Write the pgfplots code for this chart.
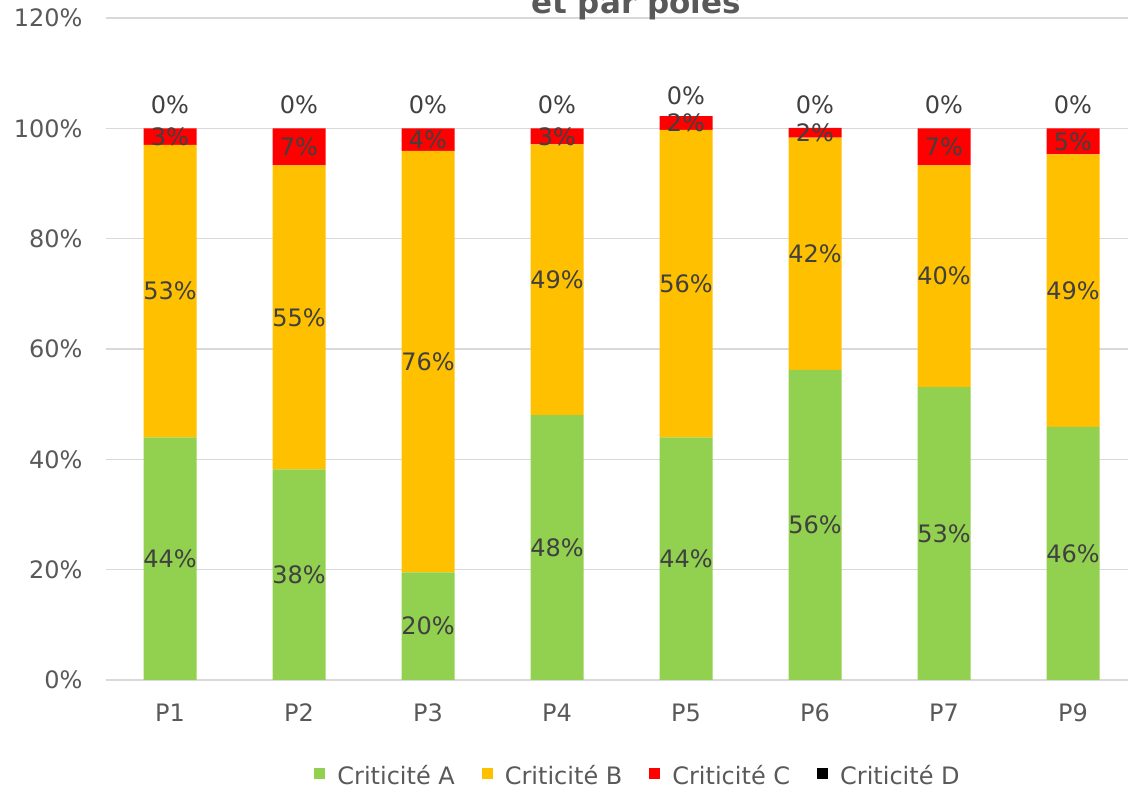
\documentclass[border=0pt]{standalone}
\usepackage{pgfplots}
\pgfplotsset{compat=1.18}
\usepackage{fontspec}
\setmainfont{DejaVu Sans}
\definecolor{cA}{HTML}{92D050}
\definecolor{cB}{HTML}{FFC000}
\definecolor{cC}{HTML}{FF0000}
\definecolor{cD}{HTML}{000000}
\definecolor{tickc}{HTML}{595959}
\definecolor{labc}{HTML}{404040}
\definecolor{gridc}{HTML}{D9D9D9}
\begin{document}
\begin{tikzpicture}
\useasboundingbox (-52.75pt,-55pt) rectangle (511.25pt,340pt);
\clip (-52.75pt,-55pt) rectangle (511.25pt,340pt);
\begin{axis}[
  at={(0pt,0pt)}, anchor=south west,
  scale only axis, width=516pt, height=331pt,
  xmin=-0.5, xmax=7.5, ymin=0, ymax=120,
  ybar stacked, bar width=26.5pt,
  xtick={0,...,7}, xticklabels={P1,P2,P3,P4,P5,P6,P7,P9},
  ytick={0,20,...,120},
  yticklabels={0\%,20\%,40\%,60\%,80\%,100\%,120\%},
  ymajorgrids, grid style={draw=gridc, line width=0.75pt},
  axis line style={draw=none}, major tick length=0pt,
  tick label style={font=\fontsize{12}{14}\selectfont, text=tickc},
  yticklabel style={xshift=-8pt},
  xticklabel style={yshift=-8.5pt},
  legend style={at={(0.517,-0.145)}, anchor=center, draw=none, fill=none,
    legend columns=4, font=\fontsize{12}{14}\selectfont, text=tickc,
    /tikz/every odd column/.append style={column sep=4pt},
    /tikz/every even column/.append style={column sep=11.5pt}},
  legend image code/.code={\fill[#1] (0pt,-1.5pt) rectangle (5.5pt,4pt);},
]
\addplot[fill=cA, draw=none] coordinates {(0,44.0) (1,38.2) (2,19.5) (3,48.0) (4,44.0) (5,56.2) (6,53.1) (7,45.9)};
\addplot[fill=cB, draw=none] coordinates {(0,53.0) (1,55.1) (2,76.4) (3,49.1) (4,55.7) (5,42.1) (6,40.2) (7,49.4)};
\addplot[fill=cC, draw=none] coordinates {(0,3.0) (1,6.7) (2,4.1) (3,2.9) (4,2.5) (5,1.8) (6,6.7) (7,4.7)};
\addplot[fill=cD, draw=none] coordinates {(0,0) (1,0) (2,0) (3,0) (4,0) (5,0) (6,0) (7,0)};
\legend{Criticité A,Criticité B,Criticité C,Criticité D}
\end{axis}
\begin{axis}[
  at={(0pt,0pt)}, anchor=south west,
  scale only axis, width=516pt, height=331pt,
  xmin=-0.5, xmax=7.5, ymin=0, ymax=120,
  hide axis, clip=false,
  nodes near coords={\pgfplotspointmeta\%},
  point meta=explicit symbolic,
  every node near coord/.append style={anchor=center, font=\fontsize{12}{14}\selectfont, text=labc, opacity=1, text opacity=1},
]
\addplot[only marks, mark=*, mark size=0pt, mark options={draw=none, fill=none}] table[meta=l] {
x y l
0 22.0 44
1 19.1 38
2 9.75 20
3 24.0 48
4 22.0 44
5 28.1 56
6 26.55 53
7 22.95 46
0 70.5 53
1 65.75 55
2 57.7 76
3 72.55 49
4 71.85 56
5 77.25 42
6 73.2 40
7 70.6 49
0 98.5 3
1 96.65 7
2 97.95 4
3 98.55 3
4 100.95 2
5 99.2 2
6 96.65 7
7 97.65 5
0 104.2 0
1 104.2 0
2 104.2 0
3 104.2 0
4 105.9 0
5 104.3 0
6 104.2 0
7 104.2 0
};
\end{axis}
\node[anchor=base, font=\fontsize{15.5}{18}\selectfont\bfseries, text=tickc] at (265.25pt,333pt) {et par pôles};
\end{tikzpicture}
\end{document}
